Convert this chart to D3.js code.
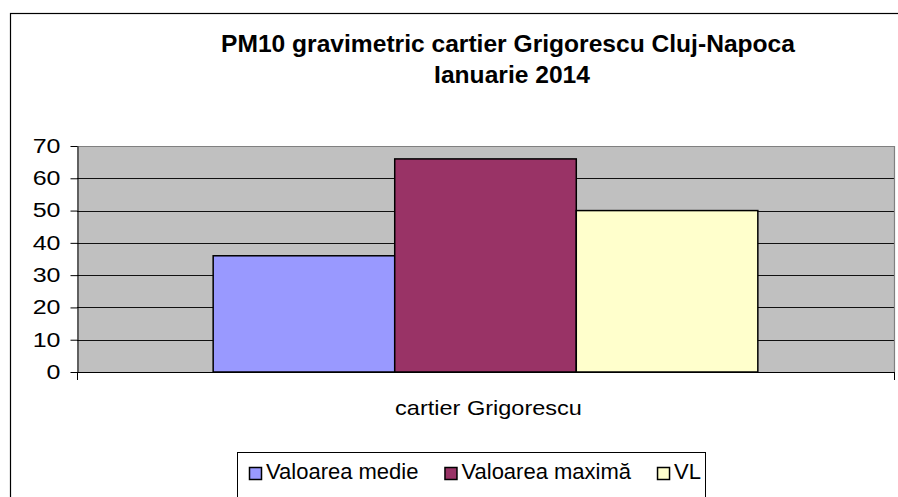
<!DOCTYPE html>
<html>
<head>
<meta charset="utf-8">
<script src="https://cdn.jsdelivr.net/npm/d3@7"></script>
<style>
  body { margin: 0; background: #fff; }
  svg { display: block; }
  text { font-family: Arial, "Liberation Sans", sans-serif; fill: #000; }
</style>
</head>
<body>
<svg id="chart"></svg>
<script>
// chart data
const titleLines = ["PM10 gravimetric cartier Grigorescu Cluj-Napoca", "Ianuarie 2014"]
const categories = ["cartier Grigorescu"]
const seriesNames = ["Valoarea medie", "Valoarea maximă", "VL"]
const seriesValues = [[36], [66], [50]]   // one value per category, per series
const yTicks = [0, 10, 20, 30, 40, 50, 60, 70]
const seriesColors = ["#9999FF", "#993366", "#FFFFCC"]

const width = 898
const height = 497
// plot area box
const plot = {left: 77, right: 894, top: 146, bottom: 372}

const svg = d3.select("#chart")
    .attr("width", width)
    .attr("height", height)

// outer chart border (runs off the right / bottom of the picture)
svg.append("rect")
    .attr("x", 10.5).attr("y", 13.5)
    .attr("width", 1000).attr("height", 1000)
    .attr("fill", "none")
    .attr("stroke", "#000")
    .attr("stroke-width", 1.2)

// title, two centred lines
const titleCenters = [508, 512]
svg.append("g").selectAll("text")
    .data(titleLines)
    .enter()
    .append("text")
        .attr("transform", (d, i) => `translate(${titleCenters[i]},${52 + i * 31}) scale(1.07,1)`)
        .attr("text-anchor", "middle")
        .style("font-weight", "bold")
        .style("font-size", "23px")
        .text(d => d)

//SCALES
const y = d3.scaleLinear()
    .domain([0, d3.max(yTicks)])
    .range([plot.bottom, plot.top])

// Excel gap width 150% -> outer padding of a quarter step on each side
const x0 = d3.scaleBand()
    .domain(categories)
    .range([plot.left, plot.right])
    .paddingInner(0)
    .paddingOuter(0.25)

const x1 = d3.scaleBand()
    .domain(seriesNames)
    .range([0, x0.bandwidth()])
    .padding(0)

// plot background
svg.append("rect")
    .attr("x", plot.left).attr("y", plot.top)
    .attr("width", plot.right - plot.left)
    .attr("height", plot.bottom - plot.top)
    .attr("fill", "#C0C0C0")

// gridlines (not on 0, that one is the axis; top one is the border)
svg.append("g").selectAll("line")
    .data(yTicks.filter(t => t > 0 && t < d3.max(yTicks)))
    .enter()
    .append("line")
        .attr("x1", plot.left).attr("x2", plot.right)
        .attr("y1", d => Math.round(y(d)) + 0.5)
        .attr("y2", d => Math.round(y(d)) + 0.5)
        .attr("stroke", "#111")
        .attr("stroke-width", 1)

// plot area border: top and right in grey
svg.append("path")
    .attr("d", `M${plot.left},${plot.top + 0.5}H${plot.right + 0.5}V${plot.bottom}`)
    .attr("fill", "none")
    .attr("stroke", "#808080")
    .attr("stroke-width", 1.2)

//BARS
const barData = []
categories.forEach((cat, ci) => {
    seriesNames.forEach((name, si) => {
        barData.push({cat, name, value: seriesValues[si][ci], color: seriesColors[si]})
    })
})

svg.append("g").selectAll("rect")
    .data(barData)
    .enter()
    .append("rect")
        .attr("x", d => x0(d.cat) + x1(d.name))
        .attr("y", d => y(d.value))
        .attr("width", x1.bandwidth())
        .attr("height", d => y(0) - y(d.value))
        .attr("fill", d => d.color)
        .attr("stroke", "#000")
        .attr("stroke-width", 1.5)

//Y AXIS
const tickFont = 20
const tickStretch = 1.25
const yAxis = d3.axisLeft(y)
    .tickValues(yTicks)
    .tickSize(7)
    .tickSizeOuter(0)

const yAxisG = svg.append("g")
    .attr("transform", `translate(${plot.left + 0.5},0)`)
    .call(yAxis)

yAxisG.select(".domain").attr("stroke", "#000")
yAxisG.selectAll(".tick line").attr("stroke", "#000")
yAxisG.selectAll(".tick text")
    .attr("x", -17 / tickStretch)
    .attr("transform", `scale(${tickStretch},1)`)
    .style("font-size", tickFont + "px")

//X AXIS: baseline with tick marks at the category band edges
const xEdges = [plot.left, plot.right]
const xAxisG = svg.append("g")
xAxisG.append("line")
    .attr("x1", plot.left).attr("x2", plot.right + 1)
    .attr("y1", plot.bottom + 0.5).attr("y2", plot.bottom + 0.5)
    .attr("stroke", "#000")
xAxisG.selectAll(".edge")
    .data(xEdges)
    .enter()
    .append("line")
        .attr("class", "edge")
        .attr("x1", d => d + 0.5).attr("x2", d => d + 0.5)
        .attr("y1", plot.bottom).attr("y2", plot.bottom + 8)
        .attr("stroke", "#000")

xAxisG.selectAll(".cat")
    .data(categories)
    .enter()
    .append("text")
        .attr("class", "cat")
        .attr("transform", d => `translate(${x0(d) + x0.bandwidth() / 2 + 3},415) scale(1.12,1)`)
        .attr("text-anchor", "middle")
        .style("font-size", "21px")
        .text(d => d)

//LEGEND
const legendBox = {x: 237, y: 452, w: 468, h: 50}
const legend = svg.append("g")
legend.append("rect")
    .attr("x", legendBox.x + 0.5).attr("y", legendBox.y + 0.5)
    .attr("width", legendBox.w).attr("height", legendBox.h)
    .attr("fill", "#fff")
    .attr("stroke", "#000")

let lx = 249
seriesNames.forEach((name, i) => {
    legend.append("rect")
        .attr("x", lx + 0.5).attr("y", 467.5)
        .attr("width", 12).attr("height", 12)
        .attr("fill", seriesColors[i])
        .attr("stroke", "#000")
        .attr("stroke-width", 1.5)
    const t = legend.append("text")
        .attr("x", lx + 17)
        .attr("y", 478.5)
        .style("font-size", "22px")
        .text(name)
    lx = lx + 17 + t.node().getComputedTextLength() + 26
})
</script>
</body>
</html>
